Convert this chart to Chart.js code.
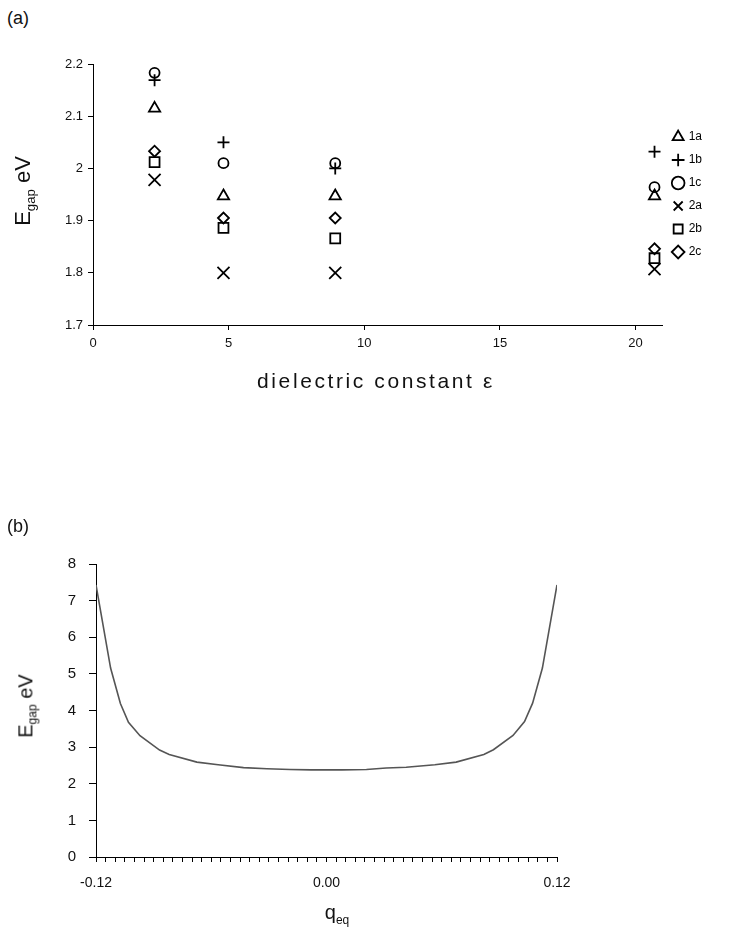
<!DOCTYPE html>
<html>
<head>
<meta charset="utf-8">
<script src="https://cdn.jsdelivr.net/npm/chart.js@4.4.1/dist/chart.umd.min.js"></script>
<style>
  body { margin: 0; background: #fff; font-family: "Liberation Sans", Arial, sans-serif; color: #111; }
  #wrap { position: relative; width: 738px; height: 928px; overflow: hidden; }
  canvas { position: absolute; left: 0; }
  .lbl { position: absolute; white-space: nowrap; }
  .rot { transform: translate(-50%, -50%) rotate(-90deg); }
  .ctr { transform: translate(-50%, -50%); }
  sub { font-size: 0.6em; vertical-align: -0.35em; }
</style>
</head>
<body>
<div id="wrap">
  <div class="lbl" style="left:7px; top:8px; font-size:18px;">(a)</div>
  <canvas id="chartA" width="738" height="400" style="top:0; width:738px; height:400px;"></canvas>
  <div class="lbl rot" style="left:24px; top:191px; font-size:22px;">E<sub>gap</sub> eV</div>
  <div class="lbl ctr" style="left:376px; top:381px; font-size:21px; letter-spacing:2.6px;">dielectric constant ε</div>

  <div class="lbl" style="left:7px; top:516px; font-size:18px;">(b)</div>
  <canvas id="chartB" width="738" height="428" style="top:500px; width:738px; height:428px;"></canvas>
  <div class="lbl rot" style="left:27px; top:706px; font-size:20px;">E<sub>gap</sub> eV</div>
  <div class="lbl ctr" style="left:337px; top:914px; font-size:20px;">q<sub>eq</sub></div>
</div>
<script>
// (a) band gap vs dielectric constant
const epsValues = [2.27, 4.81, 8.93, 20.7];
const seriesNames = ['1a', '1b', '1c', '2a', '2b', '2c'];
const gap1a = [2.115, 1.947, 1.947, 1.947];
const gap1b = [2.169, 2.050, 2.000, 2.032];
const gap1c = [2.183, 2.010, 2.010, 1.964];
const gap2a = [1.978, 1.800, 1.800, 1.807];
const gap2b = [2.012, 1.886, 1.866, 1.828];
const gap2c = [2.033, 1.905, 1.905, 1.846];
const epsTicks = [0, 5, 10, 15, 20];

// (b) band gap vs charge
const qValues = [-0.12, -0.1124, -0.1073, -0.1031, -0.0971, -0.0869, -0.0819, -0.0675, -0.0564,
  -0.0432, -0.031, -0.019, -0.008, 0.0, 0.008, 0.0208, 0.0311, 0.0415, 0.0564, 0.0675, 0.0819,
  0.0869, 0.0971, 0.1031, 0.1073, 0.1124, 0.12];
const gapQ = [7.43, 5.16, 4.19, 3.68, 3.31, 2.92, 2.80, 2.59, 2.52,
  2.44, 2.41, 2.39, 2.38, 2.38, 2.38, 2.39, 2.43, 2.45, 2.52, 2.59, 2.80,
  2.93, 3.32, 3.70, 4.20, 5.16, 7.43];
const qLabelTicks = [-0.12, 0, 0.12];

const font = "'Liberation Sans', Arial, sans-serif";
const styles = ['triangle', 'cross', 'circle', 'crossRot', 'rect', 'rectRot'];
const radii = [6.5, 6, 5, 8.5, 7, 5.5];
const gaps = [gap1a, gap1b, gap1c, gap2a, gap2b, gap2c];

function axisBase(len) {
  return {
    grid: { display: true, drawOnChartArea: false, drawTicks: true, tickLength: len, color: '#000' },
    border: { display: true, color: '#000', width: 1 }
  };
}

new Chart(document.getElementById('chartA'), {
  type: 'scatter',
  data: {
    datasets: seriesNames.map((name, i) => ({
      label: name,
      data: epsValues.map((e, j) => ({ x: e, y: gaps[i][j] })),
      pointStyle: styles[i],
      pointRadius: radii[i],
      pointHoverRadius: radii[i],
      borderColor: '#000',
      backgroundColor: 'rgba(0,0,0,0)',
      borderWidth: 1.8,
      showLine: false
    }))
  },
  options: {
    responsive: false,
    animation: false,
    layout: { padding: { left: 0, top: 64, right: 26, bottom: 0 } },
    plugins: {
      tooltip: { enabled: false },
      legend: {
        position: 'right',
        fullSize: false,
        labels: {
          usePointStyle: true, boxWidth: 9, boxHeight: 9, padding: 11,
          color: '#000', font: { family: font, size: 12 }
        }
      }
    },
    scales: {
      x: Object.assign(axisBase(5), {
        type: 'linear', min: 0, max: 21,
        afterFit: s => { s.height = 75; },
        ticks: {
          stepSize: 5, includeBounds: false, color: '#111', padding: 6,
          font: { family: font, size: 13 },
          callback: v => epsTicks.includes(v) ? String(v) : ''
        }
      }),
      y: Object.assign(axisBase(5), {
        min: 1.7, max: 2.2,
        afterFit: s => { s.width = 93; },
        ticks: {
          stepSize: 0.1, color: '#111', padding: 5, font: { family: font, size: 13 },
          callback: v => String(Number(v.toFixed(1)))
        }
      })
    }
  }
});

new Chart(document.getElementById('chartB'), {
  type: 'scatter',
  data: {
    datasets: [{
      label: 'Egap',
      data: qValues.map((q, i) => ({ x: q, y: gapQ[i] })),
      showLine: true,
      borderColor: '#555',
      borderWidth: 1.6,
      pointRadius: 0,
      tension: 0
    }]
  },
  options: {
    responsive: false,
    animation: false,
    layout: { padding: { left: 0, top: 64, right: 181, bottom: 0 } },
    plugins: { legend: { display: false }, tooltip: { enabled: false } },
    scales: {
      x: Object.assign(axisBase(5), {
        type: 'linear', min: -0.12, max: 0.12,
        afterFit: s => { s.height = 71; },
        ticks: {
          stepSize: 0.005, maxTicksLimit: 100, autoSkip: false, maxRotation: 0,
          color: '#111', padding: 13, font: { family: font, size: 14 },
          callback: v => {
            const hit = qLabelTicks.find(t => Math.abs(t - v) < 1e-9);
            return hit === undefined ? '' : hit.toFixed(2);
          }
        }
      }),
      y: Object.assign(axisBase(7), {
        min: 0, max: 8,
        afterFit: s => { s.width = 96; },
        ticks: { stepSize: 1, color: '#111', padding: 13, font: { family: font, size: 15 } }
      })
    }
  }
});
</script>
</body>
</html>
